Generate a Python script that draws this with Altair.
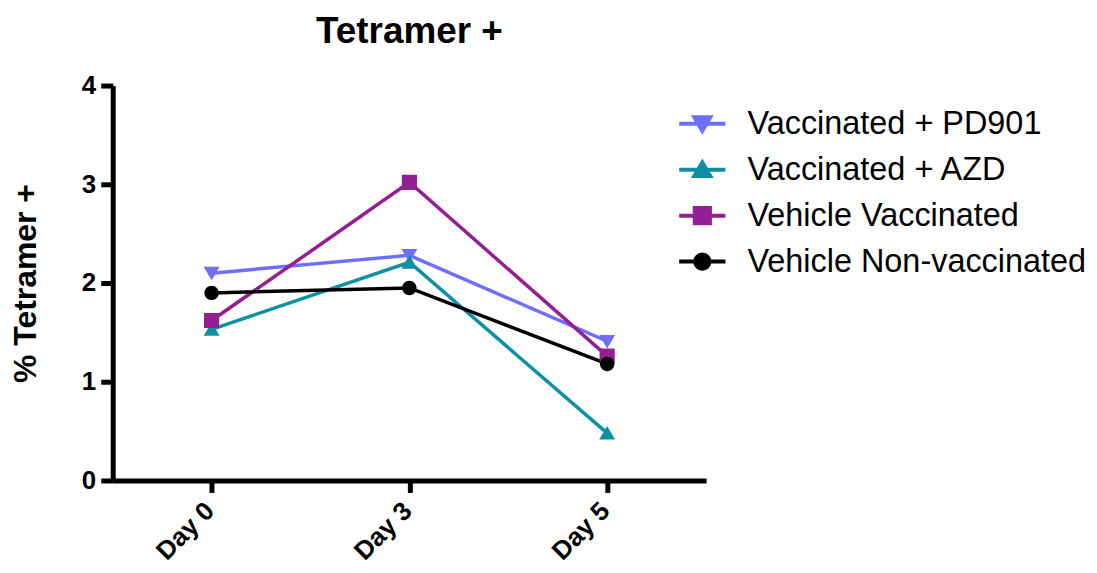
import altair as alt
import pandas as pd

days = ["Day 0", "Day 3", "Day 5"]
series = ["Vaccinated + PD901", "Vaccinated + AZD", "Vehicle Vaccinated", "Vehicle Non-vaccinated"]
pd901 = [2.10, 2.28, 1.41]
azd = [1.53, 2.21, 0.48]
vehicle_vacc = [1.62, 3.02, 1.26]
vehicle_nonvacc = [1.90, 1.95, 1.18]
colors = ["#6E6EFF", "#0E90A2", "#931F93", "#000000"]
widths = [4.5, 3.5, 3.5, 3.5]

LINE = "M-2.9,0L2.9,0"
shapes = [
    LINE + "M-1,-0.8L1,-0.8L0,0.9Z",
    LINE + "M-1,0.8L1,0.8L0,-0.9Z",
    LINE + "M-0.95,-0.95L0.95,-0.95L0.95,0.95L-0.95,0.95Z",
    LINE + "M-0.9,0A0.9,0.9,0,1,1,0.9,0A0.9,0.9,0,1,1,-0.9,0Z",
]

rows = []
for name, vals in zip(series, [pd901, azd, vehicle_vacc, vehicle_nonvacc]):
    for d, v in zip(days, vals):
        rows.append({"day": d, "series": name, "value": v, "order": series.index(name)})
df = pd.DataFrame(rows)

FONT = "Liberation Sans"

x_enc = alt.X("day:N", sort=days,
              scale=alt.Scale(type="point", padding=0.5),
              axis=alt.Axis(title=None, labelAngle=-45, labelAlign="right", labelBaseline="middle",
                            labelPadding=14, labelOffset=-2, labelFontSize=26,
                            labelFontWeight="bold"))
y_enc = alt.Y("value:Q", scale=alt.Scale(domain=[0, 4], nice=False, zero=True),
              axis=alt.Axis(title="% Tetramer +", values=[0, 1, 2, 3, 4], labelFontSize=26,
                            labelFontWeight="bold", titleFontSize=32, titleFontWeight="bold",
                            titlePadding=39, labelPadding=5))

leg = alt.Legend(title=None, orient="right", offset=-42, padding=22, symbolSize=256,
                 symbolStrokeWidth=4, labelFontSize=32.5, labelFont=FONT, labelOffset=29,
                 labelLimit=0, labelColor="black", rowPadding=13.1, symbolOpacity=1)

# stroke-width scale uses a reversed domain order so its (hidden) legend is kept apart
lines = alt.Chart(df).mark_line().encode(
    x=x_enc, y=y_enc,
    stroke=alt.Stroke("series:N", scale=alt.Scale(domain=series, range=colors), legend=leg),
    strokeWidth=alt.StrokeWidth("series:N",
                                scale=alt.Scale(domain=series[::-1], range=widths[::-1]),
                                legend=None),
    detail="series:N",
    order="order:Q",
)

points = alt.Chart(df).mark_point(filled=True, size=256, strokeWidth=0, opacity=1).encode(
    x=x_enc, y=y_enc,
    fill=alt.Fill("series:N", scale=alt.Scale(domain=series, range=colors), legend=leg),
    shape=alt.Shape("series:N", scale=alt.Scale(domain=series, range=shapes), legend=leg),
    order="order:Q",
)

chart = alt.layer(lines, points).properties(
    width=595, height=396,
    title=alt.TitleParams("Tetramer +", fontSize=37, fontWeight="bold", font=FONT,
                          anchor="middle", offset=22, color="black"),
    autosize=alt.AutoSizeParams(type="none"),
    padding={"left": 105, "top": 77, "right": 384, "bottom": 84},
).configure_view(stroke=None).configure_axis(
    domainColor="black", domainWidth=5, tickColor="black", tickWidth=5, tickSize=12,
    grid=False, labelColor="black", titleColor="black", labelFont=FONT, titleFont=FONT,
)

chart.save("out.html", embed_options={"renderer": "svg", "actions": False})
